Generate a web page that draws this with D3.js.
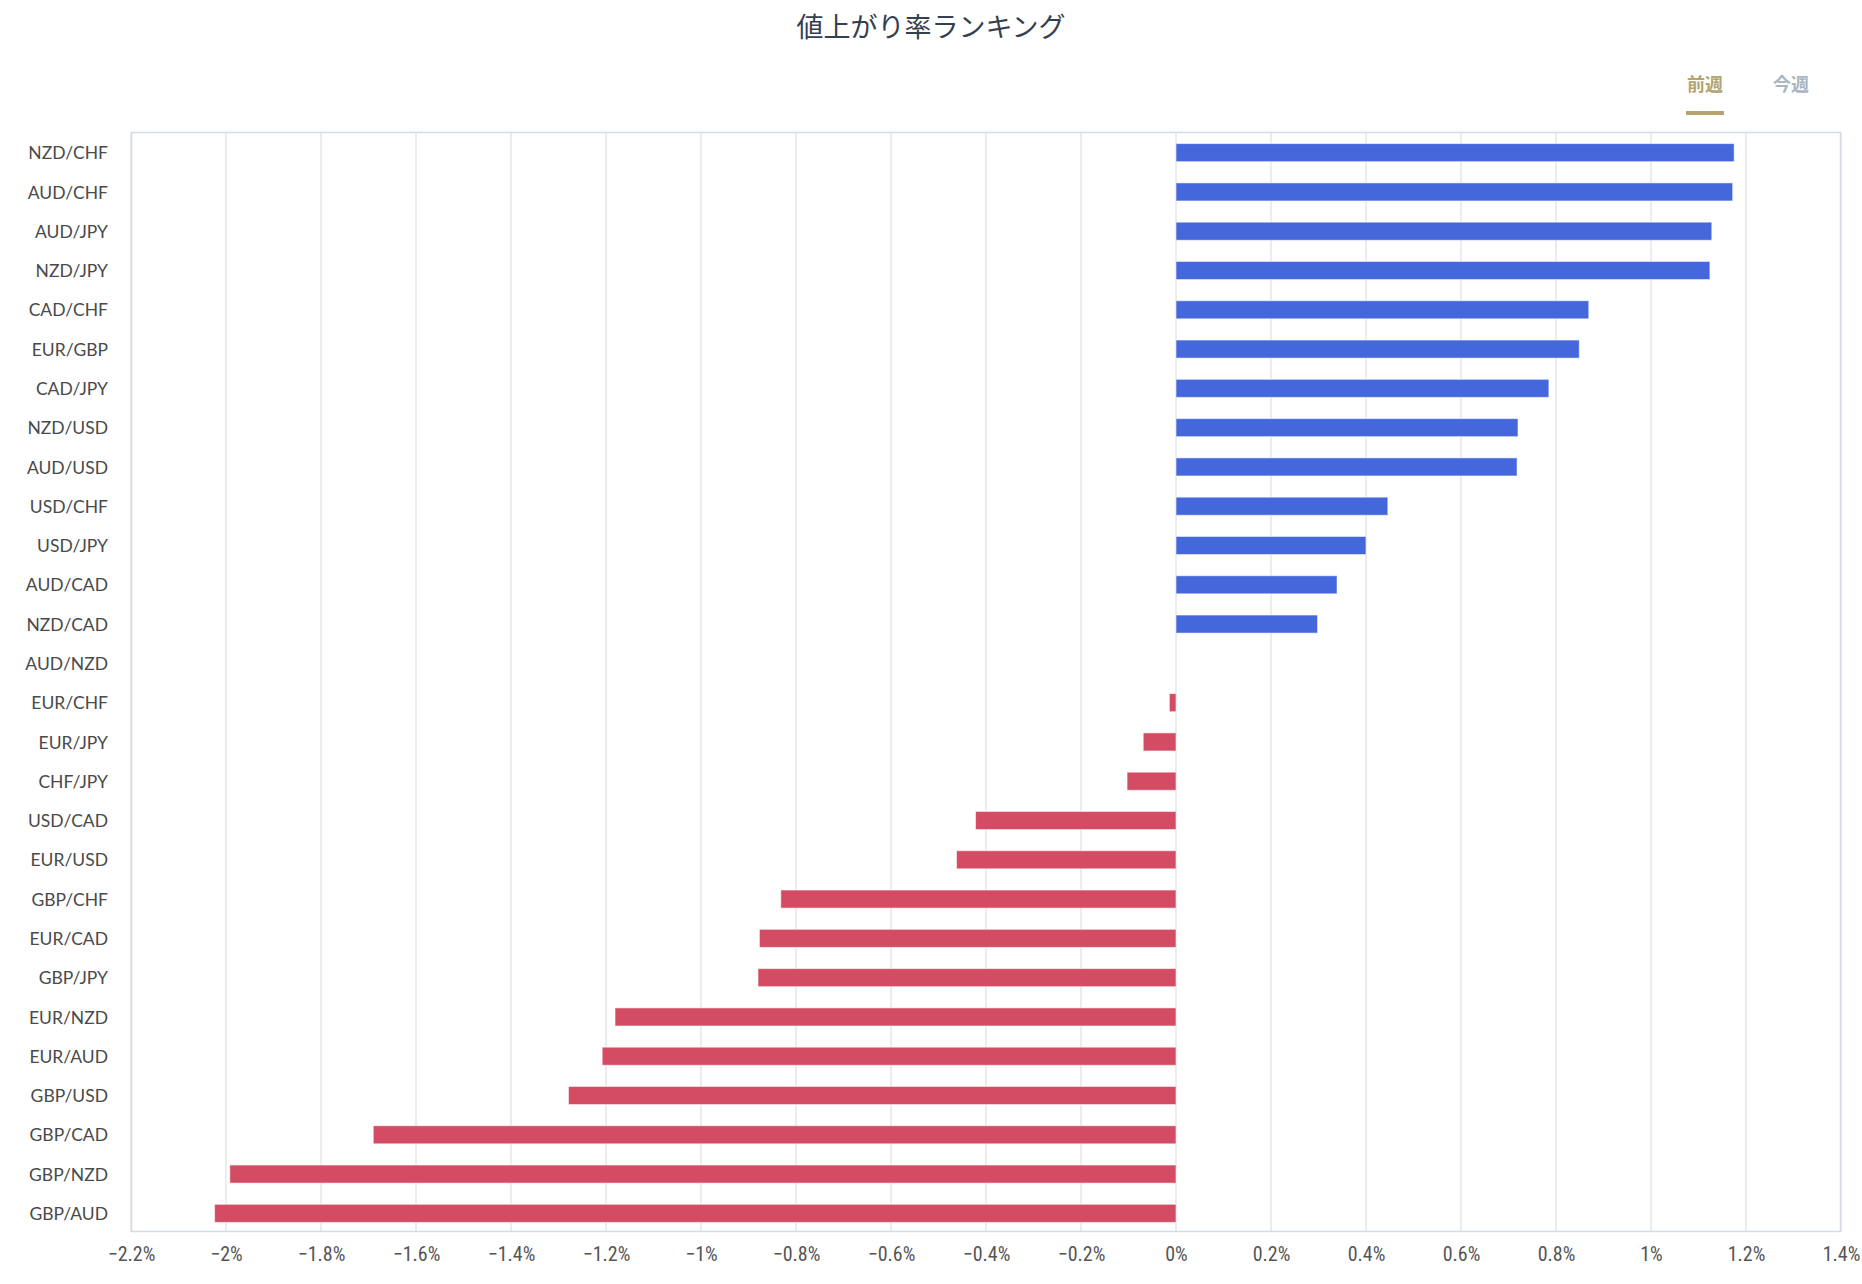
<!DOCTYPE html>
<html>
<head>
<meta charset="utf-8">
<script src="https://cdn.jsdelivr.net/npm/d3@7"></script>
<style>
  html, body { margin: 0; padding: 0; background: #fff; }
  svg { display: block; }
</style>
</head>
<body>
<svg id="chart" width="1862" height="1284"></svg>
<script>
const titleText = "値上がり率ランキング";
const tabLabels = ["前週", "今週"];
const categories = [
  "NZD/CHF", "AUD/CHF", "AUD/JPY", "NZD/JPY", "CAD/CHF", "EUR/GBP", "CAD/JPY",
  "NZD/USD", "AUD/USD", "USD/CHF", "USD/JPY", "AUD/CAD", "NZD/CAD", "AUD/NZD",
  "EUR/CHF", "EUR/JPY", "CHF/JPY", "USD/CAD", "EUR/USD", "GBP/CHF", "EUR/CAD",
  "GBP/JPY", "EUR/NZD", "EUR/AUD", "GBP/USD", "GBP/CAD", "GBP/NZD", "GBP/AUD"
];
const values = [
  1.175, 1.172, 1.128, 1.124, 0.869, 0.849, 0.785,
  0.720, 0.718, 0.446, 0.400, 0.339, 0.298, 0.000,
  -0.014, -0.069, -0.103, -0.422, -0.462, -0.832, -0.877,
  -0.880, -1.181, -1.208, -1.279, -1.690, -1.992, -2.024
];
const xTicks = [-2.2, -2.0, -1.8, -1.6, -1.4, -1.2, -1.0, -0.8, -0.6, -0.4, -0.2, 0, 0.2, 0.4, 0.6, 0.8, 1.0, 1.2, 1.4];
const xTickLabels = ["−2.2%", "−2%", "−1.8%", "−1.6%", "−1.4%", "−1.2%", "−1%", "−0.8%", "−0.6%", "−0.4%", "−0.2%", "0%", "0.2%", "0.4%", "0.6%", "0.8%", "1%", "1.2%", "1.4%"];

const data = categories.map((c, i) => ({ name: c, value: values[i] }));

const svg = d3.select("#chart");
const plot = { left: 131, right: 1841, top: 132, bottom: 1232 };

const x = d3.scaleLinear().domain([-2.2, 1.4]).range([plot.left, plot.right]);
const y = d3.scaleBand().domain(categories).range([plot.top, plot.bottom]).paddingInner(0.54).paddingOuter(0.27);

// title
svg.append("text")
  .attr("x", 931).attr("y", 37)
  .attr("text-anchor", "middle")
  .attr("font-family", "'Noto Sans CJK JP', sans-serif")
  .attr("font-size", 27)
  .attr("fill", "#34404f")
  .text(titleText);

// tabs
const tabX = [1705, 1791];
svg.selectAll("text.tab").data(tabLabels).enter().append("text")
  .attr("class", "tab")
  .attr("x", (d, i) => tabX[i]).attr("y", 91)
  .attr("text-anchor", "middle")
  .attr("font-family", "'Noto Sans CJK JP', sans-serif")
  .attr("font-size", 18)
  .attr("font-weight", "bold")
  .attr("fill", (d, i) => i === 0 ? "#b3a470" : "#a9b5c1")
  .text(d => d);
svg.append("rect")
  .attr("x", 1686).attr("y", 111).attr("width", 38).attr("height", 4)
  .attr("fill", "#b3a470");

// grid lines
svg.append("g").selectAll("line").data(xTicks).enter().append("line")
  .attr("x1", d => x(d)).attr("x2", d => x(d))
  .attr("y1", plot.top).attr("y2", plot.bottom)
  .attr("stroke", "#e6e6e6").attr("stroke-width", 1.5);

// frame
svg.append("rect")
  .attr("x", plot.left + 0.5).attr("y", plot.top + 0.5)
  .attr("width", plot.right - plot.left - 1).attr("height", plot.bottom - plot.top - 1)
  .attr("fill", "none").attr("stroke", "#d5dbe6").attr("stroke-width", 1.5);

// bars
svg.append("g").selectAll("rect").data(data).enter().append("rect")
  .attr("x", d => x(Math.min(0, d.value)))
  .attr("y", d => y(d.name) + 1)
  .attr("width", d => Math.abs(x(d.value) - x(0)))
  .attr("height", y.bandwidth())
  .attr("fill", d => d.value >= 0 ? "#4468db" : "#d34c63")
  .attr("stroke", "rgba(255,255,255,0.55)")
  .attr("stroke-width", 1);

// y axis labels
const yAxis = d3.axisLeft(y).tickSize(0).tickPadding(0);
const gy = svg.append("g").attr("transform", `translate(${plot.left - 23},2)`).call(yAxis);
gy.select(".domain").remove();
gy.selectAll("text")
  .attr("font-family", "Lato, 'Open Sans', sans-serif")
  .attr("font-size", 17.5)
  .attr("fill", "#4a4a4a");

// x axis labels
const xAxis = d3.axisBottom(x).tickValues(xTicks).tickSize(0).tickPadding(0)
  .tickFormat((d, i) => xTickLabels[i]);
const gx = svg.append("g").attr("transform", `translate(0,${plot.bottom + 15})`).call(xAxis);
gx.select(".domain").remove();
gx.selectAll("text")
  .attr("font-family", "'Liberation Sans Narrow', 'Roboto Condensed', Lato, sans-serif")
  .attr("font-size", 20)
  .attr("fill", "#555");
</script>
</body>
</html>
